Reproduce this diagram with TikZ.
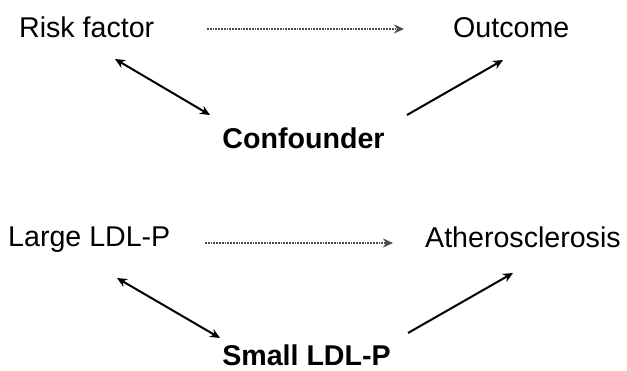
\documentclass[tikz,border=0pt]{standalone}
\usepackage{fontspec}
\setmainfont{Liberation Sans}
\usetikzlibrary{positioning, calc, arrows.meta}

\begin{document}
\begin{tikzpicture}[x=1pt, y=-1pt, >={Stealth[length=10pt, width=9pt]}]

    \tikzset{
        term/.style={font=\fontsize{28.6}{30}\selectfont, inner sep=0pt, text height=21pt, text depth=0pt},
        hub/.style={term, font=\bfseries\fontsize{28.6}{30}\selectfont},
        causal/.style={->, line width=2pt},
        assoc/.style={<->, line width=2pt},
        unknown/.style={->, densely dotted, line width=1.8pt, black!70}
    }

    \useasboundingbox (0,0) rectangle (627,371);

    % ================= generic diagram =================
    \node[term, anchor=base west] (risk) at (19,38) {Risk factor};
    \node[term, anchor=base west] (outc) at (453,38) {Outcome};
    \node[hub, anchor=base] (conf) at (303.5,149) {Confounder};

    \draw[unknown] ($(risk.base west)+(188,-9)$) -- ($(outc.base west)+(-49,-9)$);
    \draw[assoc] ($(risk.base west)+(96,21)$) -- ($(conf.base)+(-93.5,-34)$);
    \draw[causal] ($(conf.base)+(103.5,-34)$) -- ($(outc.base west)+(50,22)$);

    % ================= LDL particle example =================
    \node[term, anchor=base west] (large) at (8,247) {Large LDL-P};
    \node[term, anchor=base west] (ather) at (425,248) {Atherosclerosis};
    \node[hub, anchor=base] (small) at (306.5,366) {Small LDL-P};

    \draw[unknown] ($(large.base west)+(197,-4)$) -- ($(ather.base west)+(-32,-5)$);
    \draw[assoc] ($(large.base west)+(109,31)$) -- ($(small.base)+(-86.5,-28)$);
    \draw[causal] ($(small.base)+(101.5,-33)$) -- ($(ather.base west)+(88,25)$);

\end{tikzpicture}
\end{document}
